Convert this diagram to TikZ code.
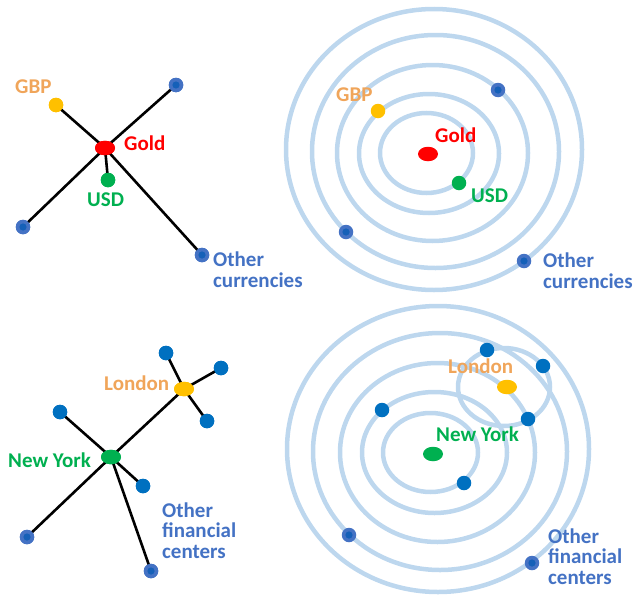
\documentclass[tikz,border=0pt]{standalone}
\usepackage{fontspec}
\setmainfont{Carlito}
\usetikzlibrary{shapes.geometric}
\definecolor{ring}{HTML}{BDD7EE}
\definecolor{txtblue}{HTML}{4472C4}
\definecolor{dotblue}{HTML}{0070C0}
\definecolor{dotin}{HTML}{1560B8}
\definecolor{gbporange}{HTML}{F0A55A}
\definecolor{gbpyellow}{HTML}{FFC000}
\definecolor{usdgreen}{HTML}{00B050}
\definecolor{goldred}{HTML}{FF0000}
\tikzset{
  ringline/.style={draw=ring, line width=4.5pt},
  link/.style={draw=black, line width=2.6pt},
  hub/.style={ellipse, inner sep=0pt, minimum width=20pt, minimum height=14.5pt, draw=none},
  dot/.style={circle, inner sep=0pt, minimum size=14.5pt, draw=none},
  otherdot/.style={dot, fill=txtblue, path picture={\fill[dotin] (path picture bounding box.center) circle (3.6pt);}},
  satdot/.style={dot, fill=dotblue},
  lab/.style={inner sep=0pt, anchor=base west, font=\fontsize{21}{20.5}\selectfont\bfseries, align=left},
}
\begin{document}
\begin{tikzpicture}[x=1pt,y=-1pt]
\useasboundingbox (0,0) rectangle (634,597);
% ---------- top right rings ----------
\draw[ringline] (426.5,153) ellipse [x radius=46.5, y radius=40];
\draw[ringline] (429,153.5) ellipse [x radius=70, y radius=59.5];
\draw[ringline] (432.5,153) ellipse [x radius=95.5, y radius=88];
\draw[ringline] (435.5,151.5) ellipse [x radius=123.5, y radius=116.5];
\draw[ringline] (434,149.5) ellipse [x radius=148, y radius=140.5];
% ---------- bottom right rings ----------
\draw[ringline] (430.5,452.5) ellipse [x radius=47.5, y radius=39.5];
\draw[ringline] (434.5,452.5) ellipse [x radius=72.5, y radius=60.5];
\draw[ringline] (437.5,452.5) ellipse [x radius=97.5, y radius=89.5];
\draw[ringline] (440,451.5) ellipse [x radius=127, y radius=118.5];
\draw[ringline] (438,449) ellipse [x radius=151, y radius=143];
\draw[ringline] (504,387) ellipse [x radius=46, y radius=39];

% ---------- top left network ----------
\node[hub, fill=goldred] (gold) at (105,148) {};
\node[dot, fill=gbpyellow] (gbp) at (56,105) {};
\node[dot, fill=usdgreen] (usd) at (108,180) {};
\node[otherdot] (c1) at (176,85) {};
\node[otherdot] (c2) at (23,227) {};
\node[otherdot] (c3) at (202,255) {};
\draw[link] (gbp.center) -- (gold.center);
\draw[link] (c1.center) -- (gold.center);
\draw[link] (c2.center) -- (gold.center);
\draw[link] (c3.center) -- (gold.center);
\draw[link] (usd.center) -- (gold.center);
\node[hub, fill=goldred] at (gold) {};
\node[dot, fill=gbpyellow] at (gbp) {};
\node[dot, fill=usdgreen] at (usd) {};
\node[otherdot] at (c1) {};
\node[otherdot] at (c2) {};
\node[otherdot] at (c3) {};
\node[lab, text=gbporange] (lgbp) at (15,93) {GBP};
\node[lab, text=goldred] (lgold) at (124,150.5) {Gold};
\node[lab, text=usdgreen] (lusd) at (87,206) {USD};
\node[lab, text=txtblue] (lother1) at (213,287) {Other\\currencies};

% ---------- top right dots ----------
\node[hub, fill=goldred] (gold2) at (428,154) {};
\node[dot, fill=gbpyellow] (gbp2) at (378,111) {};
\node[dot, fill=usdgreen] (usd2) at (459,183) {};
\node[otherdot] (d1) at (498,90) {};
\node[otherdot] (d2) at (346,232) {};
\node[otherdot] (d3) at (524,261) {};
\node[lab, text=gbporange] (lgbp2) at (336,101) {GBP};
\node[lab, text=goldred] (lgold2) at (435,142) {Gold};
\node[lab, text=usdgreen] (lusd2) at (471,202) {USD};
\node[lab, text=txtblue] (lother2) at (543,288) {Other\\currencies};

% ---------- bottom left network ----------
\node[hub, fill=gbpyellow] (lon) at (184,389) {};
\node[hub, fill=usdgreen] (ny) at (111,457) {};
\node[satdot] (s1) at (166,353) {};
\node[satdot] (s2) at (221,368) {};
\node[satdot] (s3) at (207,421) {};
\node[satdot] (s4) at (60,412) {};
\node[satdot] (s5) at (143,486) {};
\node[otherdot] (s6) at (27,537) {};
\node[otherdot] (s7) at (151,571) {};
\draw[link] (s1.center) -- (lon.center);
\draw[link] (s2.center) -- (lon.center);
\draw[link] (s3.center) -- (lon.center);
\draw[link] (ny.center) -- (lon.center);
\draw[link] (s4.center) -- (ny.center);
\draw[link] (s5.center) -- (ny.center);
\draw[link] (s6.center) -- (ny.center);
\draw[link] (s7.center) -- (ny.center);
\node[hub, fill=gbpyellow] at (lon) {};
\node[hub, fill=usdgreen] at (ny) {};
\node[satdot] at (s1) {};
\node[satdot] at (s2) {};
\node[satdot] at (s3) {};
\node[satdot] at (s4) {};
\node[satdot] at (s5) {};
\node[otherdot] at (s6) {};
\node[otherdot] at (s7) {};
\node[lab, text=gbporange] (llon) at (104,390) {London};
\node[lab, text=usdgreen] (lny) at (8,467) {New York};
\node[lab, text=txtblue] (lother3) at (162,558) {Other\\financial\\centers};

% ---------- bottom right dots ----------
\node[hub, fill=gbpyellow] (lon2) at (507,387) {};
\node[hub, fill=usdgreen] (ny2) at (433,454) {};
\node[satdot] (t1) at (487,350) {};
\node[satdot] (t2) at (543,366) {};
\node[satdot] (t3) at (528,419) {};
\node[satdot] (t4) at (382,410) {};
\node[satdot] (t5) at (464,483) {};
\node[otherdot] (t6) at (349,535) {};
\node[otherdot] (t7) at (532,563) {};
\node[lab, text=gbporange] (llon2) at (448,373) {London};
\node[lab, text=usdgreen] (lny2) at (436,441) {New York};
\node[lab, text=txtblue] (lother4) at (548,584) {Other\\financial\\centers};
\end{tikzpicture}
\end{document}
